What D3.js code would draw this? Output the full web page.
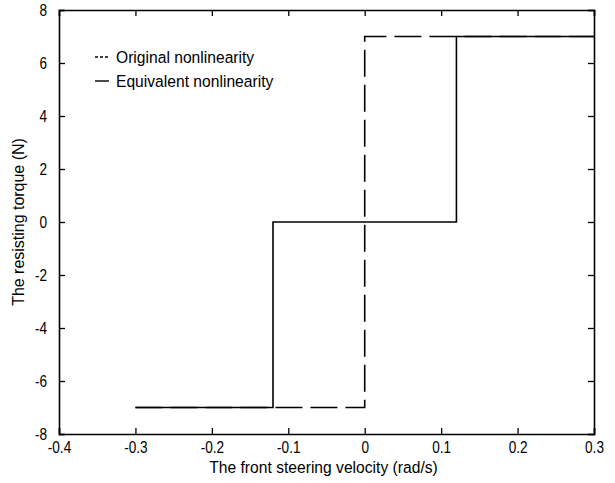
<!DOCTYPE html>
<html>
<head>
<meta charset="utf-8">
<script src="https://cdn.jsdelivr.net/npm/d3@7"></script>
<style>
  body { margin: 0; background: #fff; }
  svg text { font-family: "Liberation Sans", Arial, sans-serif; fill: #000; }
</style>
</head>
<body>
<div id="chart"></div>
<script>
// data
const original = [[-0.3, -7], [0, -7], [0, 7], [0.3, 7]];
const equivalent = [[-0.3, -7], [-0.12, -7], [-0.12, 0], [0.12, 0], [0.12, 7], [0.3, 7]];
const xTicks = [-0.4, -0.3, -0.2, -0.1, 0, 0.1, 0.2, 0.3];
const yTicks = [-8, -6, -4, -2, 0, 2, 4, 6, 8];
const legendItems = ["Original nonlinearity", "Equivalent nonlinearity"];

const W = 615, H = 483;
const margin = {left: 59, right: 21, top: 10, bottom: 49};
const width = W - margin.left - margin.right;
const height = H - margin.top - margin.bottom;

const svg = d3.select("#chart").append("svg")
  .attr("width", W).attr("height", H);

const g = svg.append("g").attr("transform", `translate(${margin.left},${margin.top})`);

const x = d3.scaleLinear().domain([-0.4, 0.3]).range([0, width]);
const y = d3.scaleLinear().domain([-8, 8]).range([height, 0]);

const fmt = d => d === 0 ? "0" : String(d);

// squeeze text sideways, the original uses a narrow helvetica
function narrow(sel, k) {
  sel.each(function() {
    const t = d3.select(this);
    const tx = +(t.attr("x") || 0);
    t.attr("x", tx / k).attr("transform", `scale(${k},1)`);
  });
}

// axes, ticks inward like matlab
const axB = g.append("g").attr("transform", `translate(0,${height})`)
  .call(d3.axisBottom(x).tickValues(xTicks).tickFormat(fmt).tickSize(-6).tickPadding(9));
const axT = g.append("g")
  .call(d3.axisTop(x).tickValues(xTicks).tickFormat("").tickSize(-6));
const axL = g.append("g")
  .call(d3.axisLeft(y).tickValues(yTicks).tickFormat(fmt).tickSize(-6).tickPadding(12));
const axR = g.append("g").attr("transform", `translate(${width},0)`)
  .call(d3.axisRight(y).tickValues(yTicks).tickFormat("").tickSize(-6));

[axB, axT, axL, axR].forEach(a => {
  a.select(".domain").attr("stroke", "#000").attr("stroke-width", 1.6);
  a.selectAll(".tick line").attr("stroke", "#000").attr("stroke-width", 1.3);
  a.selectAll("text").style("font-size", "17px").attr("fill", "#000");
});
axB.selectAll("text").attr("dy", "0.6em");
narrow(axB.selectAll("text"), 0.8);
narrow(axL.selectAll("text"), 0.8);

const line = d3.line().x(d => x(d[0])).y(d => y(d[1]));

g.append("path").datum(original)
  .attr("d", line).attr("fill", "none").attr("stroke", "#000")
  .attr("stroke-width", 1.6).attr("stroke-dasharray", "27,8");

g.append("path").datum(equivalent)
  .attr("d", line).attr("fill", "none").attr("stroke", "#000")
  .attr("stroke-width", 1.6);

// legend
const leg = g.append("g").attr("transform", "translate(36,47)");
leg.selectAll("line").data(legendItems).join("line")
  .attr("x1", 0).attr("x2", 14)
  .attr("y1", (d, i) => i * 24).attr("y2", (d, i) => i * 24)
  .attr("stroke", "#000").attr("stroke-width", 1.4)
  .attr("stroke-dasharray", (d, i) => i === 0 ? "3,2" : null);
const legText = leg.selectAll("text").data(legendItems).join("text")
  .attr("x", 21).attr("y", (d, i) => i * 24).attr("dy", "0.35em")
  .style("font-size", "17px").text(d => d);
narrow(legText, 0.92);

// axis titles
const xTitle = svg.append("text")
  .attr("x", margin.left + width / 2 - 3).attr("y", H - 10)
  .attr("text-anchor", "middle").style("font-size", "17px")
  .text("The front steering velocity (rad/s)");
narrow(xTitle, 0.92);

svg.append("text")
  .attr("transform", `translate(24,${margin.top + height / 2}) rotate(-90) scale(0.94,1)`)
  .attr("text-anchor", "middle").style("font-size", "17px")
  .text("The resisting torque (N)");
</script>
</body>
</html>
